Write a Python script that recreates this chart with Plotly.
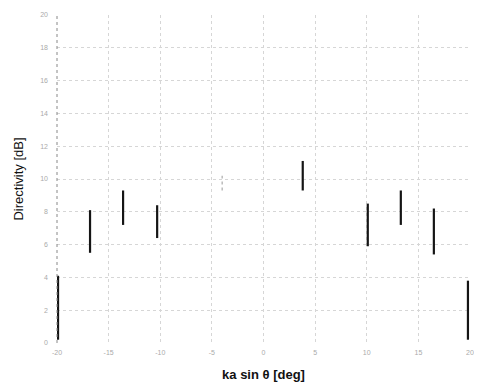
import plotly.graph_objects as go

# ka sin(theta) positions of the directivity ranges
positions = [-19.9, -16.8, -13.6, -10.3, -4.0, 3.8, 10.1, 13.3, 16.5, 19.8]
dir_low = [0.2, 5.5, 7.2, 6.4, 9.3, 9.3, 5.9, 7.2, 5.4, 0.2]
dir_high = [4.1, 8.1, 9.3, 8.4, 10.2, 11.1, 8.5, 9.3, 8.2, 3.8]
faint = [False, False, False, False, True, False, False, False, False, False]

x_ticks = [-20, -15, -10, -5, 0, 5, 10, 15, 20]
y_ticks = [0, 2, 4, 6, 8, 10, 12, 14, 16, 18, 20]

fig = go.Figure()
xs, ys, xf, yf = [], [], [], []
for p, lo, hi, f in zip(positions, dir_low, dir_high, faint):
    if f:
        xf += [p, p, None]
        yf += [lo, hi, None]
    else:
        xs += [p, p, None]
        ys += [lo, hi, None]

fig.add_trace(go.Scatter(x=xs, y=ys, mode="lines",
                         line=dict(color="#151515", width=2.2),
                         showlegend=False, hoverinfo="skip", cliponaxis=False))
fig.add_trace(go.Scatter(x=xf, y=yf, mode="lines",
                         line=dict(color="#bbbbbb", width=1.5, dash="dot"),
                         showlegend=False, hoverinfo="skip"))

# the page body adds an 8px offset, so the figure is drawn 8px smaller
fig.update_layout(
    width=474, height=382,
    margin=dict(l=49, r=12, t=7, b=47),
    paper_bgcolor="white", plot_bgcolor="white",
    font=dict(family="Liberation Sans, Arial, sans-serif", color="#222222"),
    xaxis=dict(range=[-20, 20], tickvals=x_ticks, ticktext=[str(v) for v in x_ticks],
               showgrid=True, gridcolor="#d6d6d6", griddash="dot", gridwidth=1,
               zeroline=False, showline=False, automargin=False,
               ticks="", ticklabelstandoff=4,
               tickfont=dict(size=7, color="#aaaaaa"),
               title=dict(text="<b>ka sin θ [deg]</b>", font=dict(size=13, color="#111111"),
                          standoff=14)),
    yaxis=dict(range=[0, 20], tickvals=y_ticks, ticktext=[str(v) for v in y_ticks],
               showgrid=True, gridcolor="#d6d6d6", griddash="dot", gridwidth=1,
               zeroline=False, showline=False, automargin=False,
               ticks="", ticklabelstandoff=8,
               tickfont=dict(size=7, color="#aaaaaa"),
               title=dict(text="Directivity [dB]", font=dict(size=13, color="#111111"),
                          standoff=13)),
)
fig.add_shape(type="line", xref="paper", yref="paper", x0=0, x1=0, y0=0, y1=1,
              line=dict(color="#888888", width=1, dash="dot"))

fig.write_html("out.html")
